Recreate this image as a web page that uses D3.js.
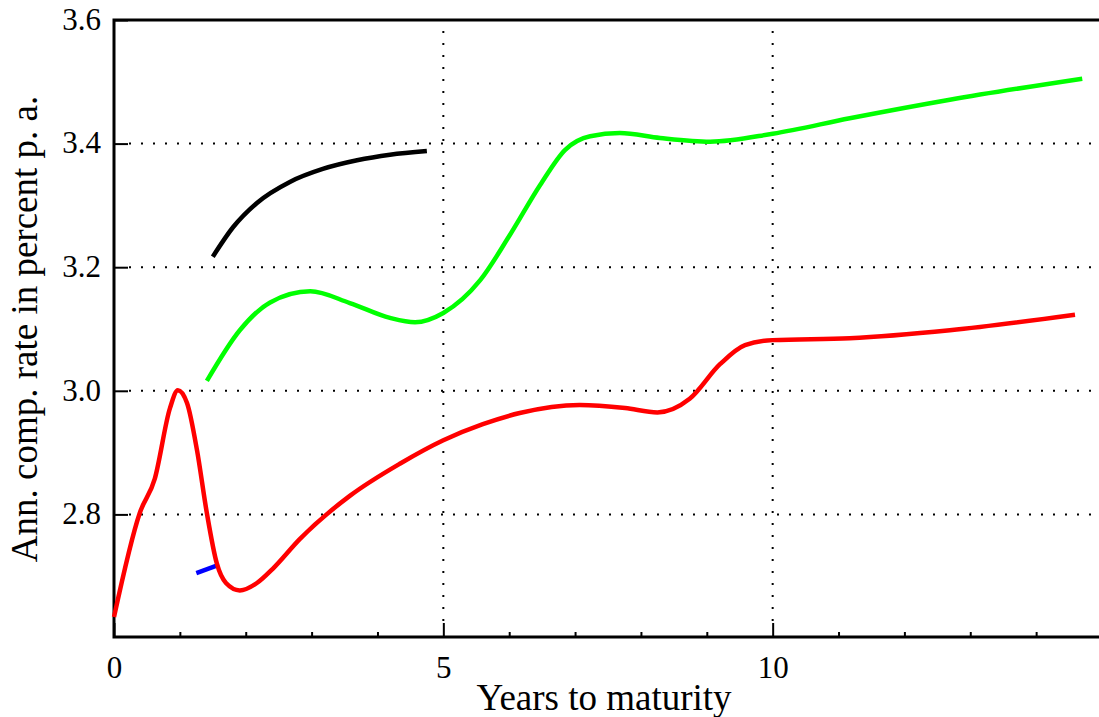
<!DOCTYPE html>
<html>
<head>
<meta charset="utf-8">
<script src="https://cdnjs.cloudflare.com/ajax/libs/d3/7.8.5/d3.min.js"></script>
<style>
	body { margin: 0; background: white; }
	svg { display: block; }
	text { font-family: "Liberation Serif", "DejaVu Serif", serif; fill: black; }
</style>
</head>
<body>
<div id="chart"></div>
<script>
// curves: [years to maturity, rate in %]
var redCurve = [[0, 2.634], [0.39, 2.802], [0.62, 2.858], [0.85, 2.972], [0.97, 3.001],
	[1.11, 2.980], [1.26, 2.904], [1.41, 2.802], [1.56, 2.721], [1.70, 2.689], [1.91, 2.677],
	[2.17, 2.689], [2.41, 2.712], [2.82, 2.760], [3.58, 2.830], [4.34, 2.882], [5, 2.920],
	[5.6, 2.946], [6.16, 2.964], [7.07, 2.977], [7.76, 2.972], [8.25, 2.965], [8.74, 2.987],
	[9.2, 3.043], [9.58, 3.074], [10, 3.082], [11.17, 3.085], [12.69, 3.098], [14.59, 3.123]];
var greenCurve = [[1.41, 3.016], [1.91, 3.098], [2.37, 3.143], [2.98, 3.161], [3.58, 3.142],
	[4.19, 3.118], [4.57, 3.111], [5, 3.126], [5.56, 3.179], [6.01, 3.252], [6.47, 3.333],
	[6.85, 3.390], [7.23, 3.412], [7.68, 3.417], [8.29, 3.409], [9.05, 3.403], [10, 3.416],
	[11.17, 3.441], [12.69, 3.471], [14.70, 3.505]];
var blackCurve = [[1.50, 3.217], [1.81, 3.265], [2.17, 3.304], [2.67, 3.338], [3.17, 3.359],
	[3.69, 3.373], [4.19, 3.382], [4.75, 3.388]];
var blueCurve = [[1.25, 2.705], [1.58, 2.718]];

var xTicks = [0, 5, 10];
var xMinorTicks = [1, 2, 3, 4, 6, 7, 8, 9, 11, 12, 13, 14];
var yTicks = [2.8, 3.0, 3.2, 3.4, 3.6];

var width = 1099, height = 717;

var xscale = d3.scaleLinear().domain([0, 15]).range([114, 1102]);
var yscale = d3.scaleLinear().domain([2.6, 3.6]).range([638, 20]);

var svg = d3.select("#chart").append("svg")
	.attr("width", width)
	.attr("height", height);

// dotted grid
svg.append("g").selectAll("line.hgrid")
	.data(yTicks.filter(function(d){ return d < 3.6; })).enter()
	.append("line")
	.attr("x1", 129).attr("x2", width)
	.attr("y1", function(d){ return yscale(d); })
	.attr("y2", function(d){ return yscale(d); })
	.style("stroke", "black")
	.style("stroke-width", 2)
	.style("stroke-dasharray", "2,10");

svg.append("g").selectAll("line.vgrid")
	.data(xTicks.filter(function(d){ return d > 0; })).enter()
	.append("line")
	.attr("x1", function(d){ return xscale(d); })
	.attr("x2", function(d){ return xscale(d); })
	.attr("y1", 621).attr("y2", 22)
	.style("stroke", "black")
	.style("stroke-width", 2)
	.style("stroke-dasharray", "2,10");

// axes
var xAxis = d3.axisBottom(xscale).tickValues(xTicks).tickSize(-14).tickSizeOuter(0).tickPadding(19);
var xMinor = d3.axisBottom(xscale).tickValues(xMinorTicks).tickSize(-5).tickSizeOuter(0).tickFormat("");
var yAxis = d3.axisLeft(yscale).tickValues(yTicks).tickSize(-14).tickSizeOuter(0)
	.tickFormat(d3.format(".1f"));

var gx = svg.append("g")
	.attr("class", "x_axis")
	.attr("transform", "translate(0,637)")
	.call(xAxis);
svg.append("g")
	.attr("transform", "translate(0,637)")
	.call(xMinor);
var gy = svg.append("g")
	.attr("class", "y_axis")
	.attr("transform", "translate(114,0)")
	.call(yAxis);

svg.selectAll(".domain").remove();
svg.selectAll(".tick line").style("stroke", "black").style("stroke-width", 2);
gx.selectAll(".tick text").style("font-size", "31px");
gy.selectAll(".tick text").style("font-size", "31px")
	.attr("x", -13).attr("dy", "0.3em");

// frame: left, bottom, top
svg.append("path")
	.attr("d", "M" + width + ",20H114V637H" + width)
	.style("fill", "none")
	.style("stroke", "black")
	.style("stroke-width", 3);

svg.append("text")
	.attr("x", 604)
	.attr("y", 710)
	.style("text-anchor", "middle")
	.style("font-size", "37px")
	.text("Years to maturity");

svg.append("text")
	.attr("transform", "rotate(-90)")
	.attr("x", -329)
	.attr("y", 37)
	.style("text-anchor", "middle")
	.style("font-size", "37px")
	.text("Ann. comp. rate in percent p. a.");

// curves
var line = d3.line()
	.x(function(d){ return xscale(d[0]); })
	.y(function(d){ return yscale(d[1]); })
	.curve(d3.curveMonotoneX);

var curves = [
	{pts: blueCurve, color: "#0000ff"},
	{pts: blackCurve, color: "#000000"},
	{pts: greenCurve, color: "#00ff00"},
	{pts: redCurve, color: "#ff0000"}
];

svg.selectAll("path.curve")
	.data(curves).enter()
	.append("path")
	.attr("class", "curve")
	.attr("d", function(d){ return line(d.pts); })
	.style("fill", "none")
	.style("stroke", function(d){ return d.color; })
	.style("stroke-width", 4.5);
</script>
</body>
</html>
